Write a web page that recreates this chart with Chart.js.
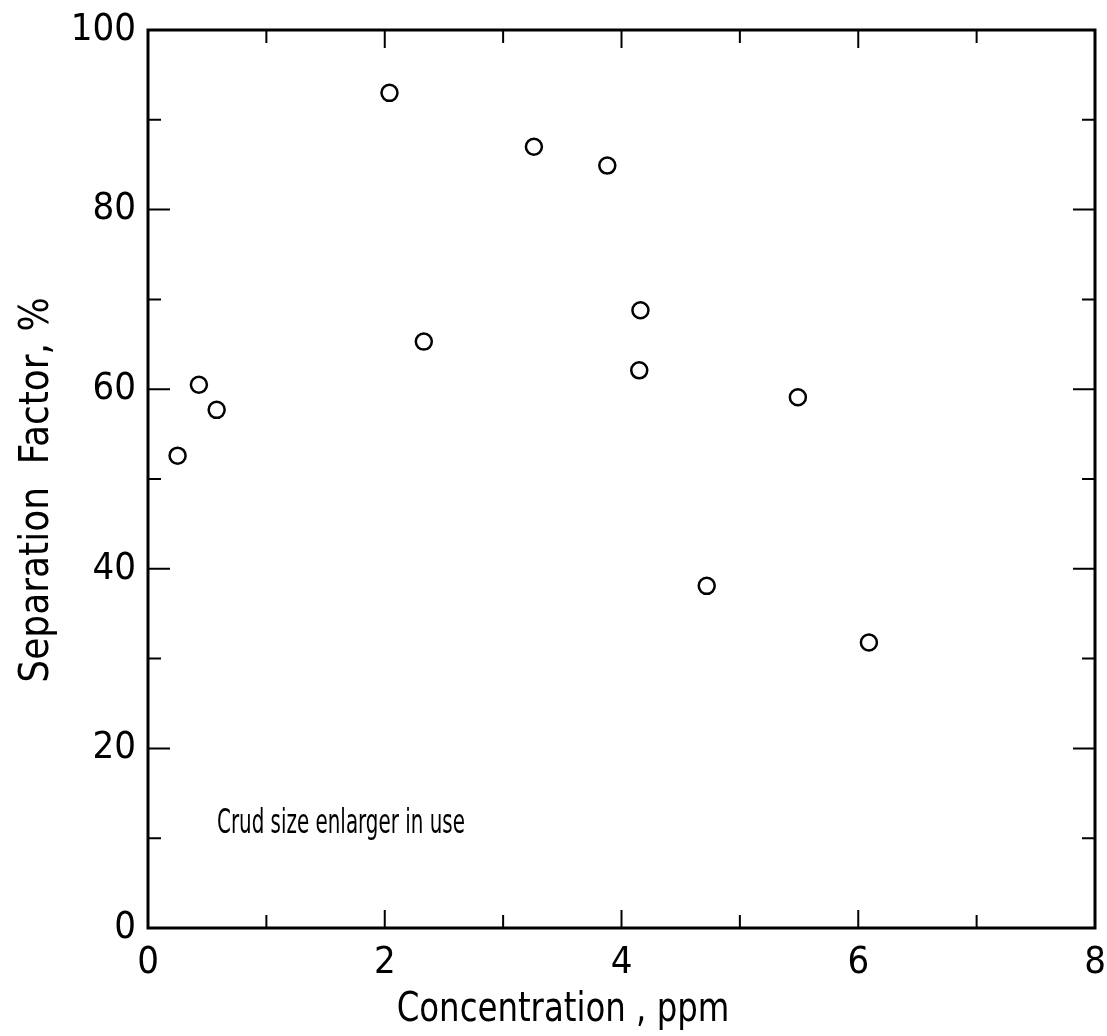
<!DOCTYPE html>
<html>
<head>
<meta charset="utf-8">
<title>Separation Factor vs Concentration</title>
<script src="https://cdn.jsdelivr.net/npm/chart.js@4/dist/chart.umd.min.js"></script>
<style>
  html, body { margin: 0; padding: 0; background: #fff; }
  canvas { display: block; }
</style>
</head>
<body>
<canvas id="chart" width="1107" height="1036"></canvas>
<script>
// values
const concentration = [0.25, 0.43, 0.58, 2.04, 2.33, 3.26, 3.88, 4.16, 4.15, 5.49, 4.72, 6.09];
const separation = [52.6, 60.5, 57.7, 93.0, 65.3, 87.0, 84.9, 68.8, 62.1, 59.1, 38.1, 31.8];

const xTicks = [0, 1, 2, 3, 4, 5, 6, 7, 8];
const yTicks = [0, 10, 20, 30, 40, 50, 60, 70, 80, 90, 100];

const xTitle = 'Concentration , ppm';
const yTitle = 'Separation  Factor, %';
const note = 'Crud size enlarger in use';

const fontFamily = "'DejaVu Sans Condensed', 'Liberation Sans Narrow', 'DejaVu Sans', sans-serif";

let points = concentration.map((c, i) => ({ x: c, y: separation[i] }));

// draws text squeezed sideways, the lettering in the original is narrow
function narrowText(ctx, text, x, y, squeeze, angle) {
  ctx.save();
  ctx.translate(x, y);
  if (angle) ctx.rotate(angle);
  ctx.scale(squeeze, 1);
  ctx.fillText(text, 0, 0);
  ctx.restore();
}

// frame with inward ticks on all four sides, plus the texts
const framePlugin = {
  id: 'frame',
  afterDraw(chart) {
    const ctx = chart.ctx;
    const a = chart.chartArea;
    const xs = chart.scales.x;
    const ys = chart.scales.y;
    ctx.save();
    ctx.strokeStyle = '#000';
    ctx.lineWidth = 3;
    ctx.strokeRect(a.left, a.top, a.right - a.left, a.bottom - a.top);

    ctx.lineWidth = 2;
    ctx.beginPath();
    for (let i = 1; i < xTicks.length - 1; i++) {
      let px = xs.getPixelForValue(xTicks[i]);
      let len = xTicks[i] % 2 === 0 ? 18 : 13;
      ctx.moveTo(px, a.bottom);
      ctx.lineTo(px, a.bottom - len);
      ctx.moveTo(px, a.top);
      ctx.lineTo(px, a.top + len);
    }
    for (let i = 1; i < yTicks.length - 1; i++) {
      let py = ys.getPixelForValue(yTicks[i]);
      let len = yTicks[i] % 20 === 0 ? 22 : 13;
      ctx.moveTo(a.left, py);
      ctx.lineTo(a.left + len, py);
      ctx.moveTo(a.right, py);
      ctx.lineTo(a.right - len, py);
    }
    ctx.stroke();

    ctx.fillStyle = '#000';
    ctx.textAlign = 'center';
    ctx.textBaseline = 'middle';
    ctx.font = '40px ' + fontFamily;
    narrowText(ctx, xTitle, 563, 1011, 0.9, 0);
    narrowText(ctx, yTitle, 38, 490, 1.0, -Math.PI / 2);

    ctx.textAlign = 'left';
    ctx.font = '33px ' + fontFamily;
    narrowText(ctx, note, 217, 824, 0.67, 0);
    ctx.restore();
  }
};

const data = {
  datasets: [
    {
      label: 'Separation factor',
      data: points,
      showLine: false,
      pointStyle: 'circle',
      pointRadius: 8,
      pointHoverRadius: 8,
      pointBorderWidth: 2.5,
      pointBorderColor: '#000',
      pointBackgroundColor: '#fff'
    }
  ]
};

const config = {
  type: 'scatter',
  data: data,
  options: {
    responsive: false,
    animation: false,
    layout: { padding: { top: 30, right: 12, left: 0, bottom: 0 } },
    plugins: {
      legend: { display: false },
      tooltip: { enabled: false }
    },
    scales: {
      x: {
        type: 'linear',
        min: 0,
        max: 8,
        grid: { display: false, drawTicks: false },
        border: { display: false },
        ticks: {
          stepSize: 2,
          padding: 12,
          color: '#000',
          font: { family: fontFamily, size: 38 }
        },
        afterFit(scale) {
          scale.height = 108;
          scale.paddingLeft = 0;
          scale.paddingRight = 0;
        }
      },
      y: {
        min: 0,
        max: 100,
        grid: { display: false, drawTicks: false },
        border: { display: false },
        ticks: {
          stepSize: 20,
          padding: 12,
          color: '#000',
          font: { family: fontFamily, size: 38 }
        },
        afterFit(scale) {
          scale.width = 148;
          scale.paddingTop = 0;
          scale.paddingBottom = 0;
        }
      }
    }
  },
  plugins: [framePlugin]
};

new Chart(document.getElementById('chart'), config);
</script>
</body>
</html>
